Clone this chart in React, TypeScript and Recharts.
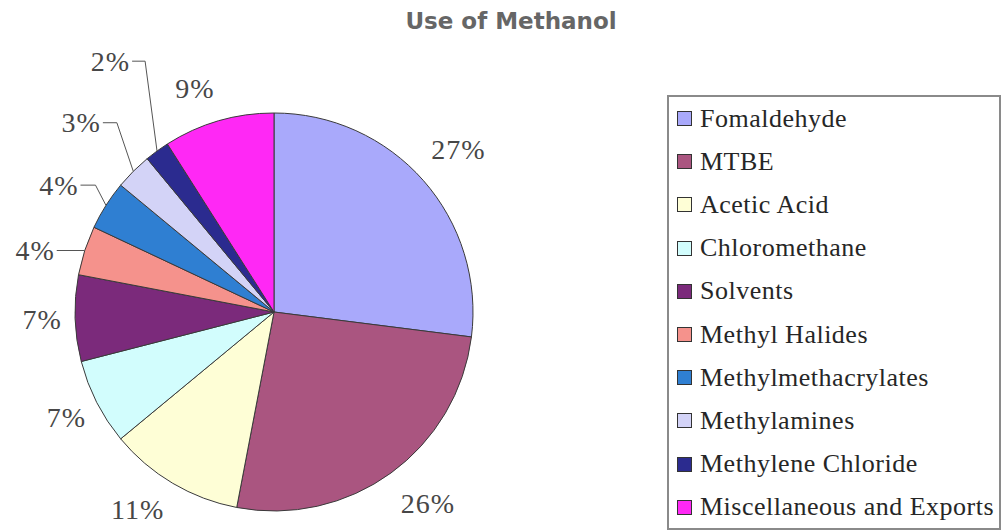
import React from "react";
import { PieChart, Pie, Cell, Legend } from "recharts";

const categories = [
  "Fomaldehyde",
  "MTBE",
  "Acetic Acid",
  "Chloromethane",
  "Solvents",
  "Methyl Halides",
  "Methylmethacrylates",
  "Methylamines",
  "Methylene Chloride",
  "Miscellaneous and Exports",
];
const shares = [27, 26, 11, 7, 7, 4, 4, 3, 2, 9];
const colors = [
  "#a9a9fb",
  "#aa5580",
  "#fefed6",
  "#d2fdfd",
  "#7b2a7b",
  "#f5928c",
  "#2f7fd2",
  "#d3d3f7",
  "#2b2b8f",
  "#ff28f5",
];

const data = categories.map((name, i) => ({ name, value: shares[i] }));

// label placement (radius from centre, angle nudge in degrees)
const labelSpot: Record<string, { r: number; da: number }> = {
  Fomaldehyde: { r: 246, da: 0 },
  MTBE: { r: 246, da: 2.7 },
  "Acetic Acid": { r: 240, da: -4 },
  Chloromethane: { r: 233, da: 0 },
  Solvents: { r: 232, da: 0 },
  "Miscellaneous and Exports": { r: 237, da: 3.3 },
};
// small slices get an elbow leader line
const leader: Record<string, { r: number; da: number; len: number }> = {
  "Methyl Halides": { r: 199, da: 0, len: 28 },
  Methylmethacrylates: { r: 219, da: -3, len: 15 },
  Methylamines: { r: 246, da: -5.3, len: 14 },
  "Methylene Chloride": { r: 282, da: -8.8, len: 13 },
};

const SERIF = "'Liberation Serif', 'Times New Roman', serif";

const RAD = Math.PI / 180;
const polar = (cx: number, cy: number, r: number, a: number) => ({
  x: cx + r * Math.cos(-a * RAD),
  y: cy + r * Math.sin(-a * RAD),
});

const labelStyle: React.CSSProperties = {
  fontFamily: SERIF,
  fontSize: 28,
  letterSpacing: 1,
  fill: "#474747",
};

const renderLabel = (props: any) => {
  const { cx, cy, midAngle, outerRadius, percent, index } = props;
  const txt = `${Math.round(percent * 100)}%`;
  const name = categories[index];
  const lead = leader[name];
  if (lead) {
    const start = polar(cx, cy, outerRadius, midAngle);
    const elbow = polar(cx, cy, lead.r, midAngle + lead.da);
    const endX = elbow.x - lead.len;
    return (
      <g key={`lbl-${index}`}>
        <polyline
          points={`${start.x},${start.y} ${elbow.x},${elbow.y} ${endX},${elbow.y}`}
          fill="none"
          stroke="#555"
          strokeWidth={1}
        />
        <text x={endX - 2} y={elbow.y} textAnchor="end" dominantBaseline="central" style={labelStyle}>
          {txt}
        </text>
      </g>
    );
  }
  const spot = labelSpot[name];
  const p = polar(cx, cy, spot.r, midAngle + spot.da);
  return (
    <text key={`lbl-${index}`} x={p.x} y={p.y} textAnchor="middle" dominantBaseline="central" style={labelStyle}>
      {txt}
    </text>
  );
};

const LegendBox = (props: any) => {
  const payload = [...(props.payload || [])].sort(
    (a: any, b: any) => categories.indexOf(a.value) - categories.indexOf(b.value)
  );
  return (
    <div
      style={{
        width: 330,
        height: 431,
        overflow: "hidden",
        border: "2px solid #8a8a8a",
        fontFamily: SERIF,
        fontSize: 26,
        letterSpacing: 0.5,
        color: "#262626",
      }}>
      {payload.map((entry: any) => (
        <div
          key={entry.value}
          style={{ height: 43.2, display: "flex", alignItems: "center", whiteSpace: "nowrap" }}>
          <span
            style={{
              display: "inline-block",
              width: 13,
              height: 13,
              marginLeft: 8,
              marginRight: 8,
              border: "1px solid #333",
              background: colors[categories.indexOf(entry.value)] ?? entry.color,
            }}
          />
          <span>{entry.value}</span>
        </div>
      ))}
    </div>
  );
};

export default function App() {
  return (
    <div style={{ position: "absolute", left: 0, top: 0, width: 1003, height: 532, background: "#fff" }}>
      <div
        style={{
          position: "absolute",
          left: 0,
          top: 10,
          width: 1022,
          textAlign: "center",
          fontFamily: "'DejaVu Sans', sans-serif",
          fontWeight: "bold",
          fontSize: 23,
          lineHeight: "23px",
          color: "#666",
        }}>
        Use of Methanol
      </div>
      <PieChart width={1003} height={532} margin={{ top: 0, right: 0, bottom: 0, left: 0 }}>
        <Pie
          data={data}
          dataKey="value"
          nameKey="name"
          cx={274}
          cy={312}
          outerRadius={199}
          startAngle={90}
          endAngle={-270}
          stroke="#3a3a3a"
          strokeWidth={1}
          label={renderLabel}
          labelLine={false}
          isAnimationActive={false}>
          {data.map((d, i) => (
            <Cell key={d.name} fill={colors[i]} />
          ))}
        </Pie>
        <Legend
          layout="vertical"
          verticalAlign="top"
          align="right"
          content={<LegendBox />}
          wrapperStyle={{ position: "absolute", left: 667, top: 95, width: 334, height: 435 }}
        />
      </PieChart>
    </div>
  );
}
